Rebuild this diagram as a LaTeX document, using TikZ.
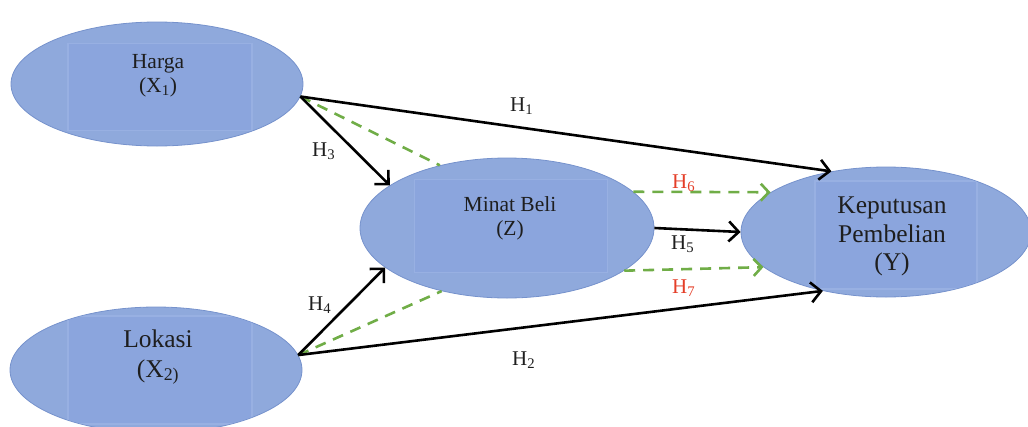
\documentclass[tikz,border=0pt]{standalone}
\usepackage{fontspec}
\setmainfont{Liberation Serif}
\usetikzlibrary{shapes.geometric,arrows.meta}
\definecolor{ellfill}{RGB}{143,169,220}
\definecolor{ellline}{RGB}{118,146,204}
\definecolor{boxfill}{RGB}{139,165,221}
\definecolor{boxline}{RGB}{152,176,226}
\definecolor{dgreen}{RGB}{112,173,71}
\definecolor{hred}{RGB}{228,62,40}
\definecolor{ink}{RGB}{30,30,30}
\tikzset{
  var/.style={ellipse, fill=ellfill, draw=ellline, line width=0.8pt, inner sep=0pt},
  panel/.style={rectangle, fill=boxfill, draw=boxline, line width=1.5pt, inner sep=0pt},
  lblm/.style={anchor=base, inner sep=0pt, font=\fontsize{21.5}{24}\selectfont, text=ink},
  lbll/.style={anchor=base, inner sep=0pt, font=\fontsize{25.5}{30}\selectfont, text=ink},
  hyp/.style={anchor=base west, inner sep=0pt, font=\fontsize{21}{23}\selectfont, text=ink},
  hypr/.style={hyp, text=hred},
  solidarrow/.style={line width=2.6pt, -{Straight Barb[length=10pt,width=20pt,line width=2.6pt]}},
  greendash/.style={dgreen, line width=2.6pt, dash pattern=on 11pt off 8pt},
  greenarrow/.style={greendash, -{Straight Barb[length=8pt,width=17pt,line width=2.6pt]}}
}
\begin{document}
\begin{tikzpicture}[x=1pt,y=-1pt]
\useasboundingbox (0,0) rectangle (1028,426);
% ellipses with inner panels
\node[var, minimum width=292pt, minimum height=124pt] (harga) at (157,84) {};
\begin{scope}
  \clip (157,84) ellipse (145.5pt and 61.5pt);
  \node[panel, minimum width=184pt, minimum height=87pt] (hargap) at (160,87) {};
\end{scope}
\node[lblm] (hargat1) at (158,68) {Harga};
\node[lblm] (hargat2) at (158,92) {(X\textsubscript{1})};

\node[var, minimum width=294pt, minimum height=140pt] (minat) at (507,228) {};
\begin{scope}
  \clip (507,228) ellipse (146.5pt and 69.5pt);
  \node[panel, minimum width=193pt, minimum height=93pt] (minatp) at (511,226) {};
\end{scope}
\node[lblm] (minatt1) at (510,211) {Minat Beli};
\node[lblm] (minatt2) at (510,235) {(Z)};

\node[var, minimum width=290pt, minimum height=130pt] (kep) at (886,232) {};
\begin{scope}
  \clip (886,232) ellipse (144.5pt and 64.5pt);
  \node[panel, minimum width=162pt, minimum height=108pt] (kepp) at (896,235) {};
\end{scope}
\node[lbll] (kept1) at (892,213) {Keputusan};
\node[lbll] (kept2) at (892,242) {Pembelian};
\node[lbll] (kept3) at (892,270) {(Y)};

\node[var, minimum width=292pt, minimum height=126pt] (lok) at (156,370) {};
\begin{scope}
  \clip (156,370) ellipse (145.5pt and 62.5pt);
  \node[panel, minimum width=184pt, minimum height=108pt] (lokp) at (160,370) {};
\end{scope}
\node[lbll] (lokt1) at (158,347) {Lokasi};
\node[lbll] (lokt2) at (158,377) {(X\textsubscript{2)}};

% connectors
\draw[greendash] (harga.-5) -- (minat.137);
\draw[greendash] (lok.6) -- (minat.224);
\draw[solidarrow] (harga.-5) -- (kep.132);
\draw[solidarrow] (harga.-5) -- (minat.160);
\draw[solidarrow] (lok.6) -- (minat.198);
\draw[solidarrow] (lok.6) -- (kep.223);
\draw[solidarrow] (minat.east) -- (kep.west);
\draw[greenarrow] (minat.16) -- (kep.161);
\draw[greenarrow] (minat.-20) -- (kep.196);

% labels
\node[hyp] (h1) at (510,111) {H\textsubscript{1}};
\node[hyp] (h2) at (512,365) {H\textsubscript{2}};
\node[hyp] (h3) at (312,156) {H\textsubscript{3}};
\node[hyp] (h4) at (308,310) {H\textsubscript{4}};
\node[hyp] (h5) at (671,249) {H\textsubscript{5}};
\node[hypr] (h6) at (672,188) {H\textsubscript{6}};
\node[hypr] (h7) at (672,293) {H\textsubscript{7}};
\end{tikzpicture}
\end{document}
